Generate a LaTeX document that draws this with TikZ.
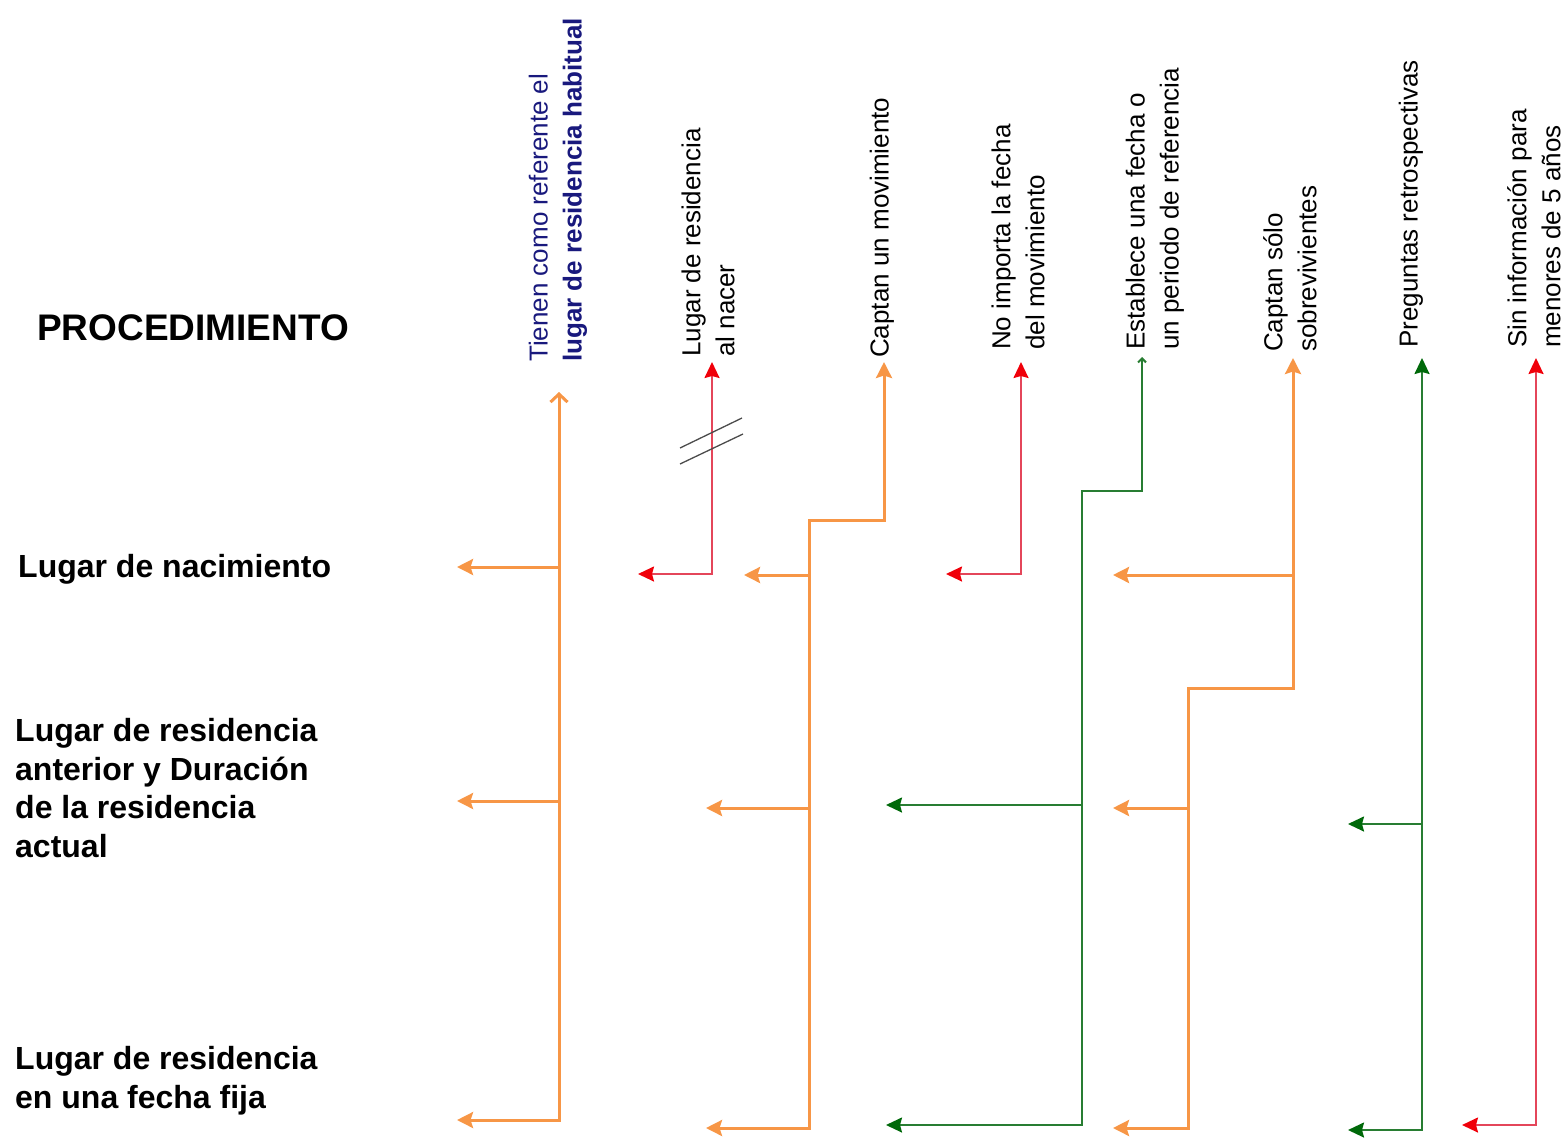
\documentclass[tikz,border=0pt]{standalone}
\usepackage{fontspec}
\setmainfont{Liberation Sans}
\usetikzlibrary{arrows.meta}
\definecolor{orng}{RGB}{247,150,70}
\definecolor{rline}{RGB}{228,70,90}
\definecolor{rhead}{RGB}{240,0,10}
\definecolor{gline}{RGB}{40,125,50}
\definecolor{ghead}{RGB}{0,105,10}
\definecolor{navy}{RGB}{25,25,125}
\tikzset{
  lbl/.style={font=\fontsize{32}{38.5}\selectfont\bfseries, align=left, inner sep=0pt, anchor=base west},
  toplbl/.style={font=\fontsize{26}{34}\selectfont, align=left, inner sep=0pt, rotate=90, anchor=west},
  oline/.style={draw=orng, line width=3pt},
  rln/.style={draw=rline, line width=2pt},
  gln/.style={draw=gline, line width=2pt},
  otip/.tip={Stealth[length=16pt,width=16pt,inset=2.5pt,color=orng]},
  rtip/.tip={Stealth[length=16pt,width=15pt,inset=2pt,color=rhead]},
  gtip/.tip={Stealth[length=16pt,width=15pt,inset=2pt,color=ghead]},
  obarb/.tip={Straight Barb[length=8pt,width=17pt]},
  gbarb/.tip={Straight Barb[length=4pt,width=8pt]},
}
\begin{document}
\begin{tikzpicture}[x=1pt,y=-1pt]
\useasboundingbox (0,0) rectangle (1563,1138);

% left labels
\node[lbl, font=\fontsize{37}{40}\selectfont\bfseries] (proc) at (37,340) {PROCEDIMIENTO};
\node[lbl] (nac) at (18,577) {Lugar de nacimiento};
\node[lbl] (ant) at (15,857) {Lugar de residencia\\anterior y Duración\\de la residencia\\actual};
\node[lbl] (fij) at (15,1108) {Lugar de residencia\\en una fecha fija};

% top labels
\node[toplbl, text=navy] (t1) at (558,362) {Tienen como referente el\\\textbf{lugar de residencia habitual}};
\node[toplbl] (t2) at (708,357) {Lugar de residencia\\al nacer};
\node[toplbl] (t3) at (882,358) {Captan un movimiento};
\node[toplbl] (t4) at (1018,350) {No importa la fecha\\del movimiento};
\node[toplbl] (t5) at (1155,350) {Establece una fecha o\\un periodo de referencia};
\node[toplbl] (t6) at (1290,352) {Captan sólo\\sobrevivientes};
\node[toplbl] (t7) at (1411,348) {Preguntas retrospectivas};
\node[toplbl] (t8) at (1534,348) {Sin información para\\menores de 5 años};

% column 1
\coordinate (c1t) at (559,392);
\coordinate (c1b) at (559,1120);
\coordinate (c1e) at (457,1120);
\coordinate (c1j1) at (559,567);
\coordinate (c1a1) at (457,567);
\coordinate (c1j2) at (559,801);
\coordinate (c1a2) at (457,801);
\draw[oline, {otip}-{obarb}] (c1e) -- (c1b) -- (c1t);
\draw[oline, -{otip}] (c1j1) -- (c1a1);
\draw[oline, -{otip}] (c1j2) -- (c1a2);

% column 2
\coordinate (c2t) at (712,362);
\coordinate (c2b) at (712,574);
\coordinate (c2e) at (638,574);
\draw[rln, {rtip}-{rtip}] (c2e) -- (c2b) -- (c2t);
\coordinate (s1a) at (680,448);
\coordinate (s1b) at (742,418);
\coordinate (s2a) at (680,464);
\coordinate (s2b) at (743,434);
\draw[black!70, line width=1.3pt] (s1a) -- (s1b);
\draw[black!70, line width=1.3pt] (s2a) -- (s2b);

% column 3
\coordinate (c3t) at (884,362);
\coordinate (c3k) at (884,520);
\coordinate (c3m) at (809,520);
\coordinate (c3b) at (809,1128);
\coordinate (c3e) at (706,1128);
\coordinate (c3j1) at (809,575);
\coordinate (c3a1) at (744,575);
\coordinate (c3j2) at (809,808);
\coordinate (c3a2) at (706,808);
\draw[oline, {otip}-{otip}] (c3e) -- (c3b) -- (c3m) -- (c3k) -- (c3t);
\draw[oline, -{otip}] (c3j1) -- (c3a1);
\draw[oline, -{otip}] (c3j2) -- (c3a2);

% column 4
\coordinate (c4t) at (1021,362);
\coordinate (c4b) at (1021,574);
\coordinate (c4e) at (946,574);
\draw[rln, {rtip}-{rtip}] (c4e) -- (c4b) -- (c4t);

% column 5
\coordinate (c5t) at (1142,357);
\coordinate (c5k) at (1142,491);
\coordinate (c5m) at (1082,491);
\coordinate (c5b) at (1082,1125);
\coordinate (c5e) at (886,1125);
\coordinate (c5j1) at (1082,805);
\coordinate (c5a1) at (886,805);
\draw[gln, {gtip}-{gbarb}] (c5e) -- (c5b) -- (c5m) -- (c5k) -- (c5t);
\draw[gln, -{gtip}] (c5j1) -- (c5a1);

% column 6
\coordinate (c6t) at (1293,358);
\coordinate (c6k) at (1293,688);
\coordinate (c6m) at (1188,688);
\coordinate (c6b) at (1188,1128);
\coordinate (c6e) at (1113,1128);
\coordinate (c6j1) at (1293,575);
\coordinate (c6a1) at (1113,575);
\coordinate (c6j2) at (1188,808);
\coordinate (c6a2) at (1113,808);
\draw[oline, {otip}-{otip}] (c6e) -- (c6b) -- (c6m) -- (c6k) -- (c6t);
\draw[oline, -{otip}] (c6j1) -- (c6a1);
\draw[oline, -{otip}] (c6j2) -- (c6a2);

% column 7
\coordinate (c7t) at (1422,358);
\coordinate (c7b) at (1422,1130);
\coordinate (c7e) at (1348,1130);
\coordinate (c7j1) at (1422,824);
\coordinate (c7a1) at (1348,824);
\draw[gln, {gtip}-{gtip}] (c7e) -- (c7b) -- (c7t);
\draw[gln, -{gtip}] (c7j1) -- (c7a1);

% column 8
\coordinate (c8t) at (1536,358);
\coordinate (c8b) at (1536,1125);
\coordinate (c8e) at (1462,1125);
\draw[rln, {rtip}-{rtip}] (c8e) -- (c8b) -- (c8t);
\end{tikzpicture}
\end{document}
